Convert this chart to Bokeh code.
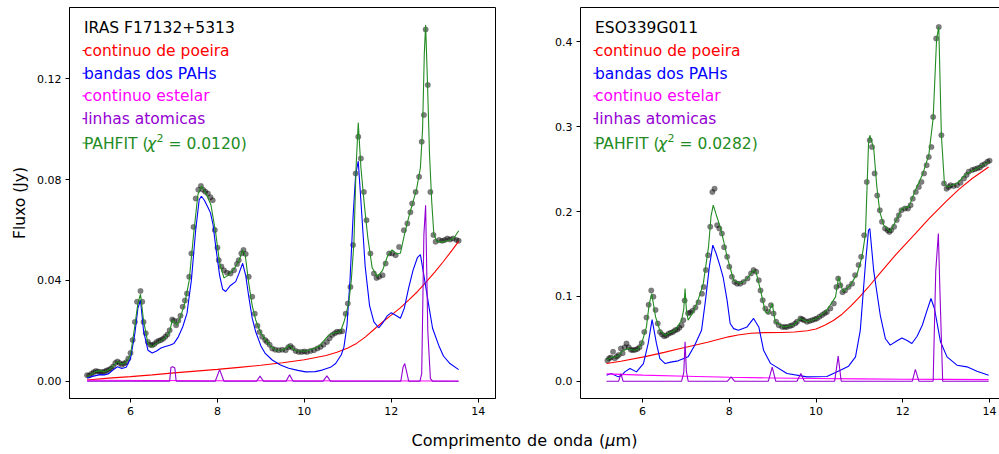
from bokeh.plotting import figure
from bokeh.layouts import row, column
from bokeh.models import Label, FixedTicker, Div, LinearAxis, PrintfTickFormatter, Range1d
from bokeh.embed import file_html
from bokeh.resources import INLINE

FONT = "DejaVu Sans"
C_DUST = "#ff0000"
C_PAH = "#0000ff"
C_STAR = "#ff00ff"
C_LINE = "#9400d3"
C_FIT = "#228b22"

x_ticks = [6, 8, 10, 12, 14]
left_y_ticks = [0.0, 0.04, 0.08, 0.12]
right_y_ticks = [0.0, 0.1, 0.2, 0.3, 0.4]

# ---------------- IRAS F17132+5313 (left) ----------------
L_name = "IRAS F17132+5313"
L_chi = "0.0120"
L_obs_x = [5.00, 5.05, 5.10, 5.15, 5.20, 5.25, 5.30, 5.35, 5.40, 5.45, 5.50, 5.55, 5.60, 5.65, 5.70, 5.75,
           5.80, 5.85, 5.90, 5.95, 6.00, 6.05, 6.10, 6.15, 6.23, 6.27, 6.30, 6.35, 6.40, 6.45, 6.50, 6.55,
           6.60, 6.65, 6.70, 6.75, 6.80, 6.85, 6.90, 6.96, 7.00, 7.05, 7.10, 7.15, 7.20, 7.25, 7.30, 7.35,
           7.40, 7.45, 7.50, 7.56, 7.62, 7.67, 7.72, 7.78, 7.84, 7.89, 7.94, 8.00, 8.03, 8.09, 8.15, 8.22,
           8.30, 8.38, 8.45, 8.49, 8.55, 8.60, 8.65, 8.72, 8.80, 8.86, 8.92, 8.97, 9.03, 9.10, 9.14, 9.20,
           9.26, 9.33, 9.41, 9.49, 9.57, 9.63, 9.68, 9.73, 9.80, 9.87, 9.94, 10.00, 10.06, 10.14, 10.22,
           10.30, 10.37, 10.44, 10.52, 10.58, 10.64, 10.70, 10.75, 10.81, 10.87, 10.95, 11.00, 11.06, 11.12,
           11.18, 11.24, 11.30, 11.37, 11.43, 11.52, 11.60, 11.66, 11.72, 11.80, 11.87, 11.95, 12.02, 12.10,
           12.18, 12.29, 12.37, 12.44, 12.48, 12.56, 12.64, 12.70, 12.75, 12.79, 12.84, 12.90, 12.97, 13.02,
           13.10, 13.17, 13.23, 13.29, 13.35, 13.42, 13.50, 13.55]
L_obs_y = [0.0024, 0.0023, 0.0030, 0.0035, 0.0040, 0.0038, 0.0036, 0.0035, 0.0038, 0.0042, 0.0045, 0.0050,
           0.0058, 0.0072, 0.0078, 0.0072, 0.0065, 0.0070, 0.0075, 0.0090, 0.0112, 0.0163, 0.0235, 0.0315,
           0.0358, 0.0315, 0.0235, 0.0190, 0.0156, 0.0145, 0.0143, 0.0148, 0.0156, 0.0160, 0.0163, 0.0168,
           0.0176, 0.0185, 0.0202, 0.0245, 0.0240, 0.0222, 0.0240, 0.0260, 0.0295, 0.0320, 0.0348, 0.0414,
           0.0507, 0.0612, 0.0725, 0.0760, 0.0775, 0.0760, 0.0752, 0.0745, 0.0730, 0.0718, 0.0600, 0.0530,
           0.0480, 0.0455, 0.0440, 0.0430, 0.0427, 0.0440, 0.0465, 0.0480, 0.0507, 0.0521, 0.0505, 0.0414,
           0.0335, 0.0268, 0.0220, 0.0195, 0.0176, 0.0163, 0.0156, 0.0145, 0.0130, 0.0125, 0.0123, 0.0125,
           0.0123, 0.0135, 0.0140, 0.0132, 0.0120, 0.0116, 0.0116, 0.0118, 0.0116, 0.0120, 0.0123, 0.0130,
           0.0136, 0.0145, 0.0156, 0.0170, 0.0183, 0.0190, 0.0196, 0.0196, 0.0198, 0.0268, 0.0308, 0.0374,
           0.0540, 0.0824, 0.0970, 0.0884, 0.0751, 0.0639, 0.0507, 0.0427, 0.0410, 0.0414, 0.0420, 0.0467,
           0.0507, 0.0507, 0.0500, 0.0533, 0.0599, 0.0626, 0.0670, 0.0705, 0.0751, 0.0811, 0.0950, 0.1056,
           0.1396, 0.1175, 0.0751, 0.0580, 0.0553, 0.0560, 0.0557, 0.0560, 0.0566, 0.0562, 0.0566, 0.0560,
           0.0557]
L_fit_x = [5.00, 5.10, 5.20, 5.30, 5.40, 5.50, 5.60, 5.70, 5.80, 5.90, 6.00, 6.10, 6.17, 6.23, 6.30, 6.40,
           6.50, 6.60, 6.70, 6.80, 6.90, 6.96, 7.00, 7.07, 7.15, 7.25, 7.35, 7.45, 7.55, 7.63, 7.73, 7.85,
           7.96, 8.05, 8.15, 8.25, 8.40, 8.50, 8.58, 8.64, 8.72, 8.80, 8.88, 9.00, 9.11, 9.22, 9.34, 9.50,
           9.58, 9.65, 9.72, 9.80, 10.03, 10.33, 10.56, 10.70, 10.83, 10.92, 11.02, 11.08, 11.14, 11.19,
           11.24, 11.30, 11.38, 11.46, 11.56, 11.68, 11.80, 11.92, 12.02, 12.12, 12.21, 12.30, 12.40, 12.48,
           12.58, 12.67, 12.72, 12.76, 12.79, 12.83, 12.88, 12.93, 12.98, 13.05, 13.15, 13.25, 13.35, 13.45,
           13.55]
L_fit_y = [0.0017, 0.0028, 0.0038, 0.0042, 0.0037, 0.0045, 0.0060, 0.0078, 0.0068, 0.0075, 0.0105, 0.0220,
           0.0310, 0.0345, 0.0240, 0.0150, 0.0137, 0.0150, 0.0160, 0.0172, 0.0195, 0.0243, 0.0235, 0.0223,
           0.0255, 0.0310, 0.0400, 0.0580, 0.0740, 0.0774, 0.0747, 0.0700, 0.0588, 0.0470, 0.0410, 0.0420,
           0.0450, 0.0480, 0.0521, 0.0500, 0.0389, 0.0300, 0.0243, 0.0190, 0.0163, 0.0140, 0.0123, 0.0124,
           0.0130, 0.0143, 0.0130, 0.0121, 0.0119, 0.0137, 0.0183, 0.0192, 0.0196, 0.0240, 0.0309, 0.0400,
           0.0548, 0.0850, 0.1026, 0.0850, 0.0700, 0.0570, 0.0450, 0.0415, 0.0440, 0.0500, 0.0521, 0.0505,
           0.0508, 0.0580, 0.0650, 0.0700, 0.0760, 0.0847, 0.1000, 0.1300, 0.1413, 0.1200, 0.0900, 0.0714,
           0.0581, 0.0555, 0.0552, 0.0555, 0.0560, 0.0570, 0.0597]
L_dust_x = [5.0, 5.5, 6.0, 6.5, 7.0, 7.5, 8.0, 8.5, 9.0, 9.5, 10.0, 10.5, 10.75, 11.0, 11.2, 11.4, 11.6,
            11.8, 12.0, 12.2, 12.4, 12.6, 12.8, 13.0, 13.2, 13.4, 13.55]
L_dust_y = [0.0005, 0.0012, 0.0018, 0.0025, 0.0033, 0.0040, 0.0047, 0.0055, 0.0063, 0.0073, 0.0085, 0.0102,
            0.0115, 0.0132, 0.0150, 0.0175, 0.0205, 0.0235, 0.0262, 0.0290, 0.0322, 0.0355, 0.0393, 0.0433,
            0.0475, 0.0520, 0.0555]
L_pah_x = [5.00, 5.10, 5.20, 5.30, 5.40, 5.50, 5.60, 5.70, 5.80, 5.90, 6.00, 6.10, 6.17, 6.23, 6.30, 6.40,
           6.50, 6.60, 6.70, 6.80, 6.90, 7.00, 7.10, 7.20, 7.30, 7.40, 7.50, 7.58, 7.63, 7.70, 7.78, 7.84,
           7.90, 7.96, 8.05, 8.12, 8.19, 8.30, 8.42, 8.50, 8.58, 8.65, 8.72, 8.80, 8.88, 9.00, 9.10, 9.26,
           9.45, 9.64, 9.85, 10.03, 10.25, 10.41, 10.60, 10.72, 10.85, 10.91, 10.98, 11.05, 11.12, 11.18,
           11.24, 11.30, 11.40, 11.50, 11.60, 11.71, 11.80, 11.90, 12.00, 12.10, 12.21, 12.30, 12.40, 12.50,
           12.60, 12.67, 12.75, 12.86, 12.95, 13.09, 13.20, 13.35, 13.55]
L_pah_y = [0.0012, 0.0018, 0.0022, 0.0026, 0.0025, 0.0030, 0.0045, 0.0057, 0.0050, 0.0055, 0.0090, 0.0190,
           0.0290, 0.0321, 0.0200, 0.0123, 0.0112, 0.0120, 0.0132, 0.0138, 0.0143, 0.0150, 0.0176, 0.0215,
           0.0270, 0.0400, 0.0600, 0.0720, 0.0734, 0.0718, 0.0690, 0.0668, 0.0620, 0.0535, 0.0420, 0.0365,
           0.0356, 0.0380, 0.0395, 0.0430, 0.0468, 0.0420, 0.0336, 0.0250, 0.0196, 0.0140, 0.0110, 0.0084,
           0.0064, 0.0051, 0.0043, 0.0037, 0.0038, 0.0044, 0.0055, 0.0070, 0.0105, 0.0135, 0.0220, 0.0400,
           0.0650, 0.0820, 0.0873, 0.0718, 0.0454, 0.0300, 0.0235, 0.0212, 0.0230, 0.0258, 0.0272, 0.0262,
           0.0250, 0.0290, 0.0370, 0.0440, 0.0490, 0.0502, 0.0420, 0.0303, 0.0210, 0.0143, 0.0100, 0.0070,
           0.0046]
L_star_x = [5.0, 8.0, 13.55]
L_star_y = [0.0004, 0.0002, 0.0001]
L_lines_x = [5.0, 6.90, 6.93, 6.97, 7.02, 7.05, 7.95, 8.05, 8.15, 8.90, 8.98, 9.06, 9.58, 9.66, 9.74,
             10.43, 10.52, 10.60, 12.22, 12.27, 12.31, 12.35, 12.40, 12.66, 12.70, 12.75, 12.79, 12.84,
             12.90, 12.95, 13.55]
L_lines_y = [0, 0, 0.0055, 0.0057, 0.0052, 0, 0, 0.0046, 0, 0, 0.0020, 0, 0, 0.0026, 0, 0, 0.0021, 0,
             0, 0.0055, 0.0070, 0.0040, 0, 0, 0.0030, 0.0580, 0.0698, 0.0200, 0.0010, 0, 0]

# ---------------- ESO339G011 (right) ----------------
R_name = "ESO339G011"
R_chi = "0.0282"
R_obs_x = [5.19, 5.23, 5.27, 5.32, 5.36, 5.41, 5.45, 5.50, 5.54, 5.59, 5.63, 5.68, 5.73, 5.78, 5.83, 5.88,
           5.93, 5.98, 6.04, 6.09, 6.14, 6.20, 6.25, 6.30, 6.35, 6.40, 6.45, 6.50, 6.55, 6.60, 6.65, 6.70,
           6.75, 6.80, 6.85, 6.90, 6.94, 6.97, 7.05, 7.10, 7.15, 7.22, 7.29, 7.37, 7.41, 7.46, 7.51, 7.56,
           7.61, 7.66, 7.72, 7.77, 7.83, 7.88, 7.95, 8.00, 8.06, 8.12, 8.18, 8.25, 8.33, 8.42, 8.50, 8.56,
           8.62, 8.68, 8.72, 8.77, 8.83, 8.90, 8.96, 9.02, 9.08, 9.14, 9.22, 9.28, 9.33, 9.40, 9.45, 9.52,
           9.56, 9.64, 9.68, 9.72, 9.79, 9.85, 9.91, 9.97, 10.02, 10.08, 10.14, 10.20, 10.25, 10.33, 10.41,
           10.47, 10.51, 10.56, 10.61, 10.67, 10.75, 10.83, 10.90, 10.98, 11.04, 11.11, 11.17, 11.24, 11.29,
           11.35, 11.41, 11.47, 11.52, 11.59, 11.65, 11.69, 11.73, 11.80, 11.86, 11.91, 11.97, 12.05, 12.12,
           12.18, 12.23, 12.30, 12.37, 12.43, 12.49, 12.55, 12.60, 12.66, 12.70, 12.77, 12.83, 12.89, 12.95,
           13.01, 13.06, 13.10, 13.17, 13.25, 13.33, 13.41, 13.47, 13.52, 13.60, 13.66, 13.72, 13.78, 13.83,
           13.89, 13.95, 14.00]
R_obs_y = [0.0245, 0.0270, 0.0280, 0.0346, 0.0270, 0.0290, 0.0310, 0.0385, 0.0330, 0.0400, 0.0445, 0.0400,
           0.0370, 0.0365, 0.0370, 0.0380, 0.0400, 0.0450, 0.0580, 0.0750, 0.0900, 0.1070, 0.0995, 0.0840,
           0.0680, 0.0580, 0.0550, 0.0530, 0.0540, 0.0560, 0.0570, 0.0580, 0.0600, 0.0610, 0.0630, 0.0660,
           0.0720, 0.0950, 0.0800, 0.0810, 0.0830, 0.0870, 0.0930, 0.1030, 0.1110, 0.1310, 0.1485, 0.1820,
           0.2230, 0.2270, 0.1840, 0.1800, 0.1740, 0.1580, 0.1466, 0.1350, 0.1230, 0.1170, 0.1150, 0.1150,
           0.1170, 0.1210, 0.1270, 0.1310, 0.1290, 0.1190, 0.1070, 0.0955, 0.0857, 0.0817, 0.0896, 0.0798,
           0.0700, 0.0660, 0.0640, 0.0640, 0.0640, 0.0650, 0.0660, 0.0680, 0.0700, 0.0739, 0.0730, 0.0720,
           0.0700, 0.0710, 0.0720, 0.0730, 0.0739, 0.0760, 0.0780, 0.0800, 0.0817, 0.0857, 0.0916, 0.1110,
           0.1210, 0.1130, 0.1050, 0.1070, 0.1110, 0.1150, 0.1250, 0.1370, 0.1466, 0.1720, 0.2350, 0.2840,
           0.2760, 0.2450, 0.2190, 0.2016, 0.1880, 0.1800, 0.1780, 0.1760, 0.1780, 0.1820, 0.1900, 0.1957,
           0.2016, 0.2035, 0.2035, 0.2075, 0.2150, 0.2230, 0.2290, 0.2350, 0.2450, 0.2546, 0.2644, 0.2760,
           0.3116, 0.4040, 0.4177, 0.2900, 0.2330, 0.2270, 0.2290, 0.2310, 0.2300, 0.2310, 0.2340, 0.2390,
           0.2430, 0.2470, 0.2490, 0.2500, 0.2510, 0.2520, 0.2546, 0.2560, 0.2586, 0.2600]
R_fit_x = [5.17, 5.27, 5.36, 5.45, 5.52, 5.60, 5.67, 5.75, 5.83, 5.90, 5.98, 6.09, 6.15, 6.21, 6.30, 6.40,
           6.52, 6.63, 6.75, 6.90, 6.95, 6.98, 7.01, 7.05, 7.17, 7.28, 7.40, 7.52, 7.58, 7.63, 7.70, 7.79,
           7.87, 7.95, 8.10, 8.25, 8.41, 8.56, 8.62, 8.72, 8.83, 8.90, 8.99, 9.06, 9.25, 9.48, 9.64, 9.79,
           10.02, 10.25, 10.45, 10.52, 10.62, 10.79, 10.95, 11.06, 11.14, 11.21, 11.24, 11.33, 11.40, 11.47,
           11.56, 11.71, 11.87, 11.98, 12.14, 12.29, 12.45, 12.60, 12.70, 12.78, 12.83, 12.89, 12.96, 13.02,
           13.25, 13.48, 13.71, 13.98]
R_fit_y = [0.0248, 0.0280, 0.0287, 0.0300, 0.0346, 0.0370, 0.0385, 0.0370, 0.0366, 0.0380, 0.0445, 0.0640,
           0.0900, 0.1034, 0.0758, 0.0600, 0.0540, 0.0570, 0.0600, 0.0719, 0.0850, 0.1093, 0.0850, 0.0719,
           0.0817, 0.0955, 0.1150, 0.1580, 0.1950, 0.2075, 0.1960, 0.1820, 0.1650, 0.1466, 0.1190, 0.1150,
           0.1210, 0.1310, 0.1280, 0.1070, 0.0817, 0.0800, 0.0916, 0.0700, 0.0640, 0.0660, 0.0740, 0.0700,
           0.0740, 0.0837, 0.0994, 0.1230, 0.1053, 0.1130, 0.1270, 0.1466, 0.1740, 0.2800, 0.2900, 0.2744,
           0.2300, 0.1997, 0.1840, 0.1760, 0.1920, 0.2036, 0.2055, 0.2252, 0.2430, 0.2665, 0.3098, 0.4040,
           0.4178, 0.2900, 0.2331, 0.2290, 0.2331, 0.2450, 0.2508, 0.2586]
R_dust_x = [5.17, 5.5, 6.06, 6.5, 6.82, 7.0, 7.5, 7.98, 8.2, 8.5, 8.8, 9.2, 9.5, 9.8, 10.0, 10.2, 10.4,
            10.6, 10.8, 11.0, 11.2, 11.5, 11.8, 12.0, 12.3, 12.6, 13.0, 13.3, 13.6, 13.98]
R_dust_y = [0.0208, 0.0235, 0.0290, 0.0340, 0.0380, 0.0400, 0.0460, 0.0523, 0.0545, 0.0565, 0.0573, 0.0575,
            0.0580, 0.0595, 0.0615, 0.0660, 0.0715, 0.0790, 0.0885, 0.0990, 0.1105, 0.1290, 0.1470, 0.1580,
            0.1745, 0.1915, 0.2120, 0.2265, 0.2390, 0.2525]
R_pah_x = [5.17, 5.28, 5.44, 5.52, 5.59, 5.71, 5.86, 6.02, 6.13, 6.22, 6.32, 6.40, 6.52, 6.65, 6.82, 7.05,
           7.20, 7.36, 7.45, 7.54, 7.62, 7.70, 7.79, 7.86, 7.95, 8.02, 8.10, 8.21, 8.41, 8.56, 8.68, 8.79,
           8.95, 9.33, 9.79, 10.25, 10.56, 10.75, 10.91, 11.02, 11.14, 11.21, 11.24, 11.33, 11.48, 11.60,
           11.71, 11.85, 11.98, 12.10, 12.21, 12.33, 12.45, 12.55, 12.65, 12.73, 12.87, 13.02, 13.25, 13.48,
           13.71, 13.98]
R_pah_y = [0.0071, 0.0090, 0.0051, 0.0070, 0.0110, 0.0150, 0.0110, 0.0208, 0.0445, 0.0727, 0.0445, 0.0267,
           0.0208, 0.0225, 0.0240, 0.0287, 0.0420, 0.0600, 0.0950, 0.1350, 0.1604, 0.1500, 0.1350, 0.1220,
           0.0950, 0.0680, 0.0620, 0.0600, 0.0640, 0.0740, 0.0640, 0.0366, 0.0210, 0.0091, 0.0051, 0.0055,
           0.0130, 0.0177, 0.0287, 0.0600, 0.1390, 0.1780, 0.1800, 0.1300, 0.0780, 0.0500, 0.0425, 0.0470,
           0.0510, 0.0480, 0.0445, 0.0530, 0.0660, 0.0820, 0.0975, 0.0857, 0.0464, 0.0287, 0.0189, 0.0169,
           0.0118, 0.0071]
R_star_x = [5.17, 6.0, 7.0, 8.0, 9.0, 10.0, 11.0, 12.0, 13.0, 13.98]
R_star_y = [0.0086, 0.0072, 0.0058, 0.0046, 0.0038, 0.0032, 0.0027, 0.0023, 0.0021, 0.0019]
R_lines_x = [5.17, 5.45, 5.50, 5.55, 6.90, 6.95, 6.98, 7.01, 7.05, 7.96, 8.04, 8.12, 8.90, 8.99, 9.07,
             9.56, 9.65, 9.73, 10.43, 10.51, 10.58, 12.22, 12.29, 12.37, 12.70, 12.76, 12.82, 12.86, 12.92,
             13.98]
R_lines_y = [0, 0, 0.0090, 0, 0, 0.0100, 0.0464, 0.0120, 0, 0, 0.0050, 0, 0, 0.0165, 0, 0, 0.0090, 0,
             0, 0.0295, 0, 0, 0.0140, 0, 0, 0.1300, 0.1740, 0.1000, 0, 0]

legend_names = ["continuo de poeira", "bandas dos PAHs", "continuo estelar", "linhas atomicas"]
legend_colors = [C_DUST, C_PAH, C_STAR, C_LINE]


def style_axis(ax):
    ax.axis_line_color = "black"
    ax.major_tick_line_color = "black"
    ax.major_tick_out = 4
    ax.major_tick_in = 0
    ax.minor_tick_line_color = None
    ax.major_label_text_font = FONT
    ax.major_label_text_font_size = "11px"
    ax.major_label_text_color = "black"
    ax.major_label_standoff = 4


def make_panel(name, chi, obs, fit, dust, pah, star, lines, xr, yr, yticks, yfmt,
               fw, fh, bl, br, open_right, ylabel=None):
    p = figure(frame_width=fw, frame_height=fh, x_range=Range1d(*xr), y_range=Range1d(*yr),
               output_backend="svg", toolbar_location=None,
               min_border_left=bl, min_border_right=br, min_border_top=7, min_border_bottom=27)
    p.background_fill_color = "white"
    p.border_fill_color = "white"
    p.xgrid.visible = False
    p.ygrid.visible = False
    p.xaxis.ticker = FixedTicker(ticks=x_ticks)
    p.xaxis.formatter = PrintfTickFormatter(format="%d")
    p.yaxis.ticker = FixedTicker(ticks=yticks)
    p.yaxis.formatter = PrintfTickFormatter(format=yfmt)
    style_axis(p.xaxis[0])
    style_axis(p.yaxis[0])
    if ylabel:
        p.yaxis.axis_label = ylabel
        p.yaxis.axis_label_text_font = FONT
        p.yaxis.axis_label_text_font_size = "15.5px"
        p.yaxis.axis_label_text_font_style = "normal"
        p.yaxis.axis_label_text_color = "black"
        p.yaxis.axis_label_standoff = 5
    if open_right:
        p.outline_line_color = None
        top = LinearAxis(ticker=FixedTicker(ticks=[]), major_label_text_font_size="0px",
                         major_tick_out=0, major_tick_in=0, major_label_standoff=0,
                         axis_line_color="black", minor_tick_line_color=None)
        p.add_layout(top, "above")
    else:
        p.outline_line_color = "black"
        p.outline_line_alpha = 1.0
        p.outline_line_width = 1

    p.scatter(obs[0], obs[1], size=5.5, fill_color="black", fill_alpha=0.5,
              line_color="black", line_alpha=0.15)
    p.line(dust[0], dust[1], color=C_DUST, line_width=1.1)
    p.line(pah[0], pah[1], color=C_PAH, line_width=1.1)
    p.line(star[0], star[1], color=C_STAR, line_width=1.1)
    p.line(lines[0], lines[1], color=C_LINE, line_width=1.1)
    p.line(fit[0], fit[1], color=C_FIT, line_width=1.1)

    # legend-like texts, positioned in frame pixels
    def dx(px):
        return xr[0] + px / fw * (xr[1] - xr[0])

    def dy(py):
        return yr[1] - py / fh * (yr[1] - yr[0])

    x0 = dx(14.5)
    base = [20.8, 43.5, 66.2, 88.9, 111.6]
    fit_base = 136.0
    p.add_layout(Label(x=x0, y=dy(base[0]), text=name, text_color="black", text_font=FONT,
                       text_font_size="15.5px", text_baseline="alphabetic"))
    for i, (t, c) in enumerate(zip(legend_names, legend_colors)):
        p.add_layout(Label(x=x0, y=dy(base[i + 1]), text=t, text_color=c, text_font=FONT,
                           text_font_size="15.5px", text_baseline="alphabetic"))
    # small legend handles
    hb = base[1:] + [fit_base]
    hc = legend_colors + [C_FIT]
    p.segment(x0=[dx(13.0)] * 5, x1=[dx(16.8)] * 5, y0=[dy(b - 0.5) for b in hb],
              y1=[dy(b - 0.5) for b in hb], color=hc, line_width=1.1)
    yb = dy(fit_base)
    p.add_layout(Label(x=x0, y=yb, text="PAHFIT (", text_color=C_FIT, text_font=FONT,
                       text_font_size="15.5px", text_baseline="alphabetic"))
    p.add_layout(Label(x=x0, y=yb, x_offset=63, text="\u03c7", text_color=C_FIT, text_font=FONT,
                       text_font_size="15.5px", text_font_style="italic", text_baseline="alphabetic"))
    p.add_layout(Label(x=x0, y=yb, x_offset=72.5, y_offset=6, text="2", text_color=C_FIT, text_font=FONT,
                       text_font_size="11px", text_baseline="alphabetic"))
    p.add_layout(Label(x=x0, y=yb, x_offset=84.5, text=" = " + chi + ")", text_color=C_FIT, text_font=FONT,
                       text_font_size="15.5px", text_baseline="alphabetic"))
    return p


p1 = make_panel(L_name, L_chi, (L_obs_x, L_obs_y), (L_fit_x, L_fit_y), (L_dust_x, L_dust_y),
                (L_pah_x, L_pah_y), (L_star_x, L_star_y), (L_lines_x, L_lines_y),
                (4.596, 14.398), (-0.00687, 0.1483), left_y_ticks, "%.2f",
                426, 391, 69, 45, False, ylabel="Fluxo (Jy)")
p2 = make_panel(R_name, R_chi, (R_obs_x, R_obs_y), (R_fit_x, R_fit_y), (R_dust_x, R_dust_y),
                (R_pah_x, R_pah_y), (R_star_x, R_star_y), (R_lines_x, R_lines_y),
                (4.569, 14.23), (-0.0204, 0.4406), right_y_ticks, "%.1f",
                419, 391, 40, 0, True)

xlabel = Div(text="Comprimento de onda (<i>\u03bc</i>m)", width=999, height=29,
             styles={"font-family": FONT, "font-size": "16px", "color": "black",
                     "text-align": "center", "padding-left": "40px", "box-sizing": "border-box",
                     "line-height": "20px", "padding-top": "1px", "word-spacing": "1px"})

layout = column(row(p1, p2), xlabel)
open("out.html", "w").write(file_html(layout, INLINE))
